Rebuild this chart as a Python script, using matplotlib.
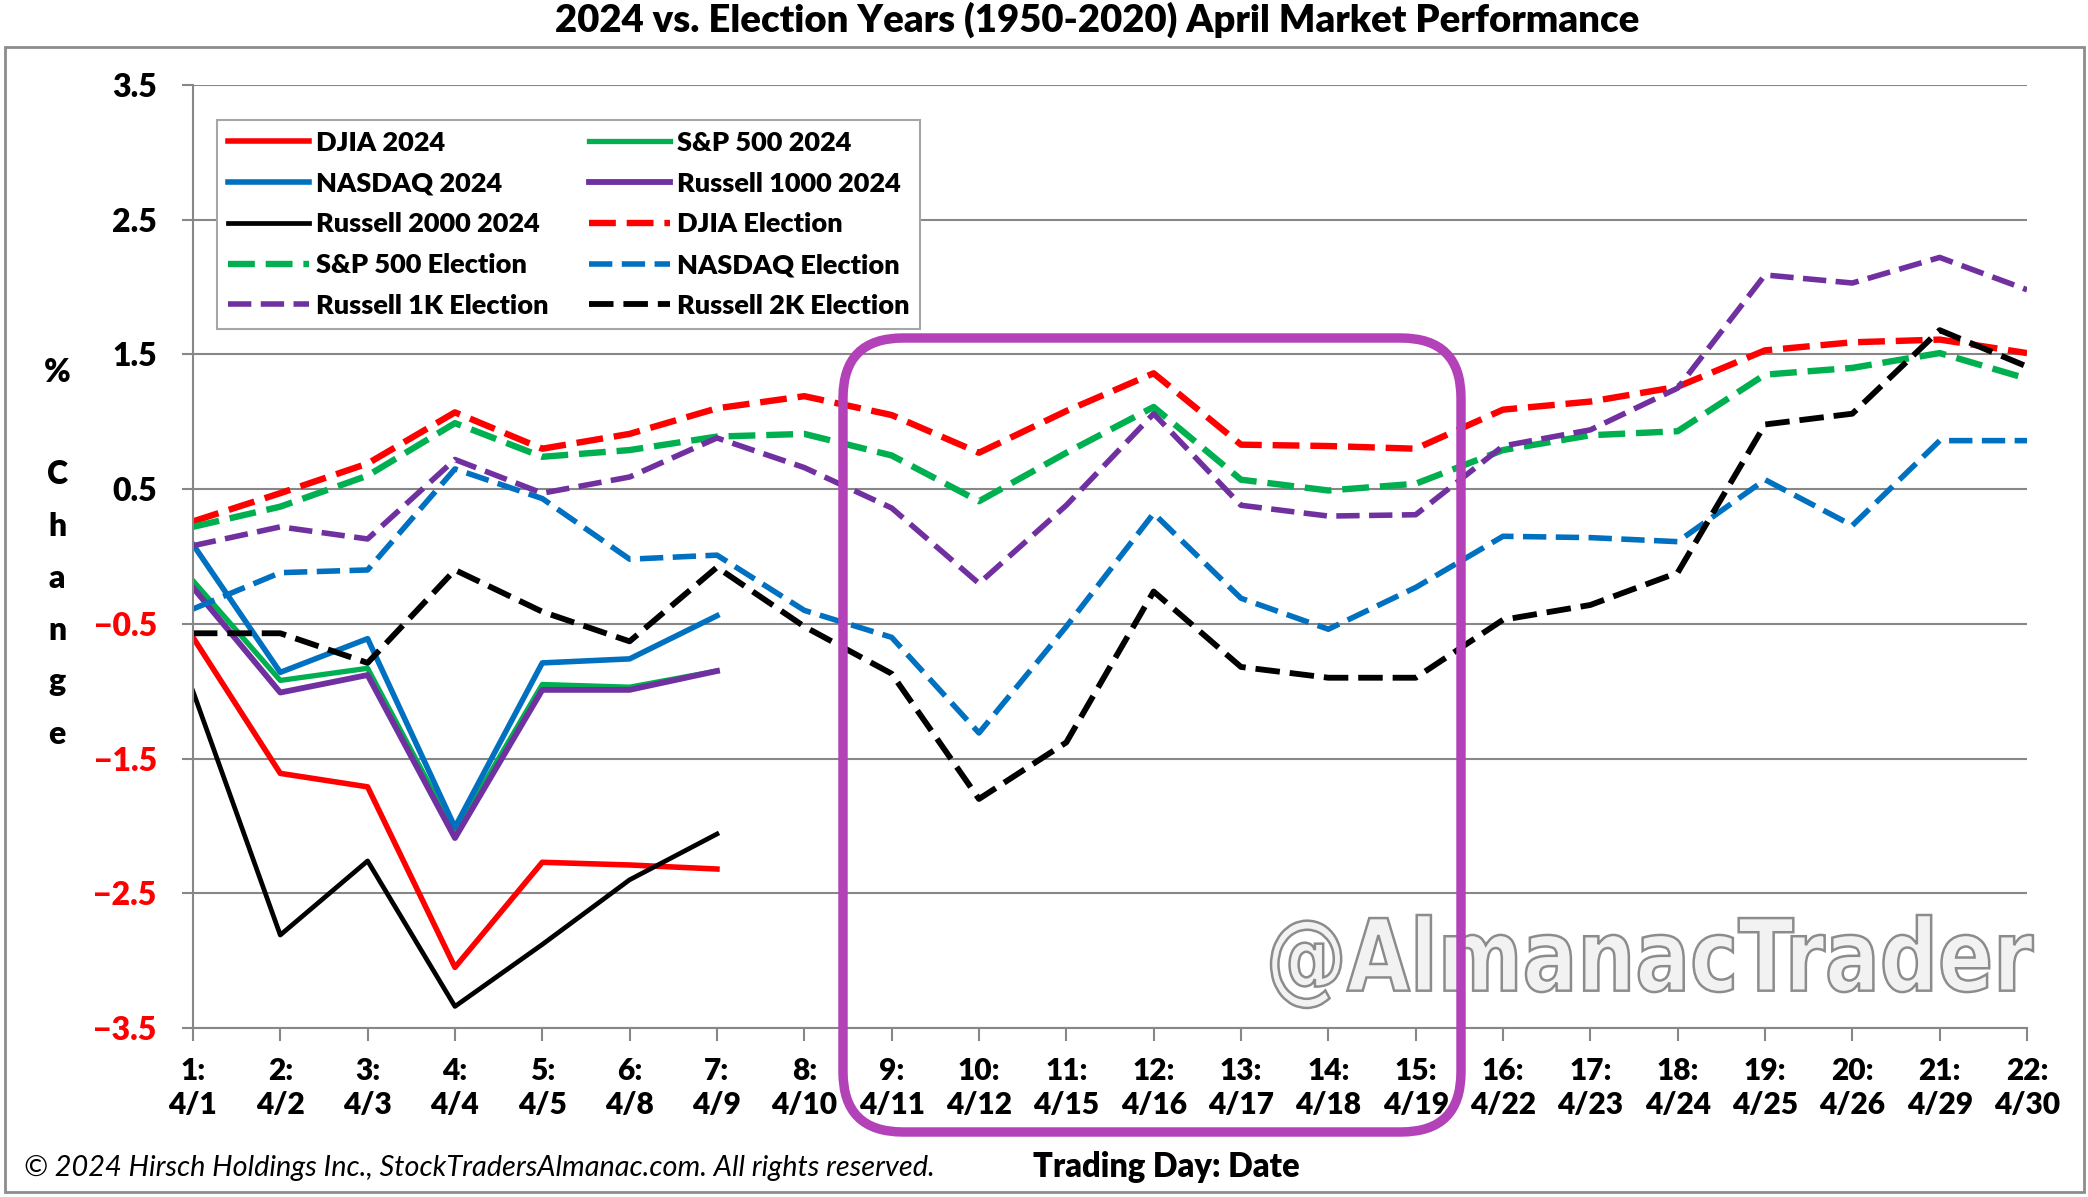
#!/usr/bin/env python3
"""
2024 vs. election years April market performance chart
"""

import matplotlib.pyplot as plt
from matplotlib.patches import FancyBboxPatch, Rectangle, PathPatch
from matplotlib.textpath import TextPath
from matplotlib.font_manager import FontProperties
from matplotlib.transforms import Affine2D

plt.rcParams['font.family'] = ['Lato', 'DejaVu Sans']
BOLD = 'heavy'

# Trading days and dates
days = list(range(1, 23))
dates = ['4/1', '4/2', '4/3', '4/4', '4/5', '4/8', '4/9', '4/10', '4/11', '4/12', '4/15',
         '4/16', '4/17', '4/18', '4/19', '4/22', '4/23', '4/24', '4/25', '4/26', '4/29', '4/30']

# 2024 (first 7 trading days)
djia_2024 = [-0.60, -1.61, -1.71, -3.05, -2.27, -2.29, -2.32]
sp500_2024 = [-0.18, -0.92, -0.83, -2.05, -0.95, -0.97, -0.85]
nasdaq_2024 = [0.09, -0.86, -0.61, -2.01, -0.79, -0.76, -0.44]
r1000_2024 = [-0.23, -1.01, -0.88, -2.09, -0.99, -0.99, -0.85]
r2000_2024 = [-1.00, -2.81, -2.26, -3.34, -2.88, -2.40, -2.06]

# Election year averages 1950-2020
djia_elec = [0.26, 0.47, 0.69, 1.07, 0.80, 0.91, 1.10, 1.19, 1.05, 0.77, 1.08, 1.36,
             0.83, 0.82, 0.80, 1.09, 1.15, 1.26, 1.53, 1.59, 1.61, 1.51]
sp500_elec = [0.22, 0.37, 0.60, 0.99, 0.74, 0.79, 0.89, 0.91, 0.75, 0.41, 0.77, 1.11,
              0.57, 0.49, 0.54, 0.79, 0.90, 0.93, 1.35, 1.40, 1.51, 1.32]
nasdaq_elec = [-0.39, -0.12, -0.10, 0.65, 0.43, -0.02, 0.01, -0.40, -0.60, -1.31, -0.52, 0.32,
               -0.31, -0.54, -0.23, 0.15, 0.14, 0.11, 0.57, 0.23, 0.86, 0.86]
r1k_elec = [0.08, 0.22, 0.13, 0.72, 0.47, 0.59, 0.88, 0.66, 0.36, -0.20, 0.38, 1.06,
            0.38, 0.30, 0.31, 0.82, 0.94, 1.25, 2.09, 2.03, 2.22, 1.98]
r2k_elec = [-0.57, -0.57, -0.79, -0.10, -0.41, -0.63, -0.08, -0.52, -0.87, -1.80, -1.38, -0.26,
            -0.82, -0.90, -0.90, -0.47, -0.36, -0.12, 0.98, 1.06, 1.68, 1.41]

yticks = [3.5, 2.5, 1.5, 0.5, -0.5, -1.5, -2.5, -3.5]

RED, GREEN, BLUE, PURPLE, BLACK = '#FF0000', '#00B050', '#0070C0', '#7030A0', '#000000'
GRID = '#878787'

fig = plt.figure(figsize=(20.88, 11.97), dpi=100)
ax = fig.add_axes([0.0924, 0.1412, 0.8784, 0.7878])

d24 = days[:len(djia_2024)]
h = {}
h['DJIA 2024'], = ax.plot(d24, djia_2024, color=RED, lw=4.0)
h['S&P 500 2024'], = ax.plot(d24, sp500_2024, color=GREEN, lw=3.8)
h['NASDAQ 2024'], = ax.plot(d24, nasdaq_2024, color=BLUE, lw=4.0)
h['Russell 1000 2024'], = ax.plot(d24, r1000_2024, color=PURPLE, lw=4.2)
h['Russell 2000 2024'], = ax.plot(d24, r2000_2024, color=BLACK, lw=3.4)

dash = (4.2, 1.7)
h['DJIA Election'], = ax.plot(days, djia_elec, color=RED, lw=4.6, dashes=dash)
h['S&P 500 Election'], = ax.plot(days, sp500_elec, color=GREEN, lw=4.6, dashes=dash)
h['NASDAQ Election'], = ax.plot(days, nasdaq_elec, color=BLUE, lw=4.0, dashes=dash)
h['Russell 1K Election'], = ax.plot(days, r1k_elec, color=PURPLE, lw=4.0, dashes=dash)
h['Russell 2K Election'], = ax.plot(days, r2k_elec, color=BLACK, lw=4.2, dashes=dash)

ax.set_xlim(1, 22)
ax.set_ylim(-3.5, 3.5)
ax.set_yticks(yticks)
ax.set_yticklabels([f'{v:.1f}'.replace('-', '\u2212') for v in yticks])
for lbl, v in zip(ax.get_yticklabels(), yticks):
    lbl.set_color(RED if v < 0 else BLACK)
    lbl.set_fontweight(BOLD)
    lbl.set_fontsize(23)
ax.set_xticks(days)
ax.set_xticklabels([f'{d}:\n{dt}' for d, dt in zip(days, dates)],
                   fontsize=21.5, fontweight=BOLD, linespacing=1.25)
ax.tick_params(axis='x', length=9, width=1.5, color=GRID, pad=12)
ax.tick_params(axis='y', length=8, width=1.5, color=GRID, pad=18)
ax.grid(axis='y', color=GRID, lw=1.5)
ax.set_axisbelow(True)
for s in ['top', 'right']:
    ax.spines[s].set_visible(False)
for s in ['left', 'bottom']:
    ax.spines[s].set_color(GRID)
    ax.spines[s].set_linewidth(1.5)

# legend laid out row by row as in the original
order = ['DJIA 2024', 'NASDAQ 2024', 'Russell 2000 2024', 'S&P 500 Election', 'Russell 1K Election',
         'S&P 500 2024', 'Russell 1000 2024', 'DJIA Election', 'NASDAQ Election', 'Russell 2K Election']
leg = ax.legend([h[k] for k in order], order, ncol=2, loc='upper left',
                bbox_to_anchor=(0.013, 0.963), borderaxespad=0, fancybox=False,
                edgecolor='#A6A6A6', framealpha=1, handlelength=3.0, handletextpad=0.25,
                columnspacing=1.5, labelspacing=0.62, borderpad=0.4,
                prop={'size': 19.5, 'weight': BOLD})
leg.get_frame().set_linewidth(1.5)

# titles and labels
fig.text(1097 / 2088, 1 - 20 / 1197, '2024 vs. Election Years (1950-2020) April Market Performance',
         ha='center', va='center', fontsize=27.5, fontweight=BOLD)
fig.text(57 / 2088, 1 - 373 / 1197, '%', ha='center', va='center', fontsize=23, fontweight=BOLD)
for i, ch in enumerate('Change'):
    fig.text(57 / 2088, 1 - (474 + 52 * i) / 1197, ch, ha='center', va='center',
             fontsize=23, fontweight=BOLD)
fig.text(1166 / 2088, 1 - 1167 / 1197, 'Trading Day: Date', ha='center', va='center',
         fontsize=23.5, fontweight=BOLD)
fig.text(24 / 2088, 1 - 1168 / 1197,
         '\u00a9 2024 Hirsch Holdings Inc., StockTradersAlmanac.com. All rights reserved.',
         ha='left', va='center', fontsize=20.8, fontstyle='italic')

# watermark, squeezed into its box
tp = TextPath((0, 0), '@AlmanacTrader', size=100,
              prop=FontProperties(family='DejaVu Sans', weight='bold'))
ext = tp.get_extents()
x0, x1, y0, y1 = 12.71, 20.33, 1.89, 2.82
wm_tr = (Affine2D().translate(-ext.x0, -ext.y0)
         .scale((x1 - x0) / ext.width, (y1 - y0) / ext.height)
         .translate(x0, y0) + fig.dpi_scale_trans)
wm = PathPatch(tp, transform=wm_tr, facecolor='#F2F2F2', edgecolor='#8C8C8C', lw=1.8, zorder=1)
fig.patches.append(wm)

# highlight box around days 9-15
box = FancyBboxPatch((8.43, 0.65), 6.18, 7.94, boxstyle='round,pad=0,rounding_size=0.6',
                     transform=fig.dpi_scale_trans, fill=False, edgecolor='#B342B8',
                     linewidth=6.8, zorder=10)
fig.patches.append(box)

# chart area border
border = Rectangle((5 / 2088, 5 / 1197), 2079 / 2088, 1145 / 1197, transform=fig.transFigure,
                   fill=False, edgecolor='#8C8C8C', linewidth=2)
fig.patches.append(border)

fig.savefig('out.png', dpi=100)
